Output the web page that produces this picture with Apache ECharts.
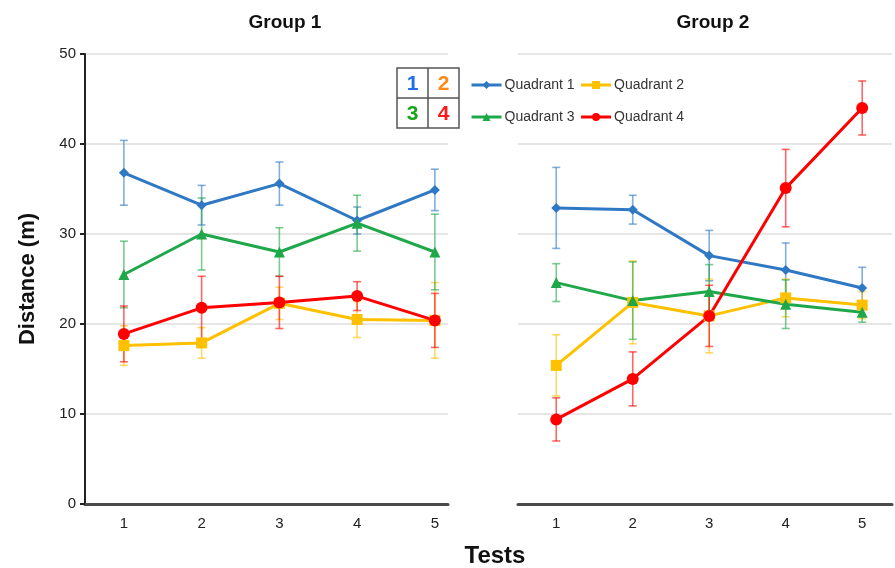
<!DOCTYPE html>
<html>
<head>
<meta charset="utf-8">
<script src="https://cdn.jsdelivr.net/npm/echarts@6/dist/echarts.min.js"></script>
<style>
  html, body { margin: 0; padding: 0; background: #fff; }
  #chart { width: 895px; height: 568px; }
</style>
</head>
<body>
<div id="chart"></div>
<script>
// Test numbers shared by both groups
const tests = [1, 2, 3, 4, 5];
const yTicks = [0, 10, 20, 30, 40, 50];
const seriesNames = ['Quadrant 1', 'Quadrant 2', 'Quadrant 3', 'Quadrant 4'];
const groupTitles = ['Group 1', 'Group 2'];

// Group 1 mean distances (m) and error half-widths
const g1q1 = [36.8, 33.2, 35.6, 31.5, 34.9];
const g1q1Err = [3.6, 2.2, 2.4, 1.5, 2.3];
const g1q2 = [17.6, 17.9, 22.3, 20.5, 20.4];
const g1q2Err = [2.2, 1.7, 1.8, 2.0, 4.2];
const g1q3 = [25.5, 30.0, 28.0, 31.2, 28.0];
const g1q3Err = [3.7, 4.0, 2.7, 3.1, 4.2];
const g1q4 = [18.9, 21.8, 22.4, 23.1, 20.4];
const g1q4Err = [3.1, 3.5, 2.9, 1.6, 3.0];

// Group 2 mean distances (m) and error half-widths
const g2q1 = [32.9, 32.7, 27.6, 26.0, 24.0];
const g2q1Err = [4.5, 1.6, 2.8, 3.0, 2.3];
const g2q2 = [15.4, 22.4, 20.9, 22.9, 22.1];
const g2q2Err = [3.4, 4.6, 4.1, 2.1, 1.5];
const g2q3 = [24.6, 22.6, 23.6, 22.2, 21.3];
const g2q3Err = [2.1, 4.3, 3.0, 2.7, 1.1];
const g2q4 = [9.4, 13.9, 20.9, 35.1, 44.0];
const g2q4Err = [2.4, 3.0, 3.4, 4.3, 3.0];

const colors = ['#2f78c4', '#ffc000', '#1fa84a', '#ff0000'];
const symbols = ['diamond', 'rect', 'triangle', 'circle'];
const symbolSizes = [10, 11, 11, 12];

const groups = [
  { means: [g1q1, g1q2, g1q3, g1q4], errs: [g1q1Err, g1q2Err, g1q3Err, g1q4Err] },
  { means: [g2q1, g2q2, g2q3, g2q4], errs: [g2q1Err, g2q2Err, g2q3Err, g2q4Err] }
];

const labelFont = '"Liberation Sans Narrow", "Liberation Sans", Arial, sans-serif';
const mainFont = '"Liberation Sans", Arial, sans-serif';

function errorBarRenderer(color) {
  return function (params, api) {
    const x = api.value(0);
    const lo = api.coord([x, api.value(1)]);
    const hi = api.coord([x, api.value(2)]);
    const half = 4;
    const style = { stroke: color, lineWidth: 1.6, opacity: 0.6 };
    return {
      type: 'group',
      children: [
        { type: 'line', shape: { x1: lo[0], y1: lo[1], x2: hi[0], y2: hi[1] }, style },
        { type: 'line', shape: { x1: hi[0] - half, y1: hi[1], x2: hi[0] + half, y2: hi[1] }, style },
        { type: 'line', shape: { x1: lo[0] - half, y1: lo[1], x2: lo[0] + half, y2: lo[1] }, style }
      ]
    };
  };
}

const series = [];
groups.forEach((g, gi) => {
  // line series first so the legend picks up their line + marker icons
  g.means.forEach((vals, si) => {
    series.push({
      type: 'line',
      name: seriesNames[si],
      xAxisIndex: gi,
      yAxisIndex: gi,
      z: 3,
      symbol: symbols[si],
      symbolSize: symbolSizes[si],
      color: colors[si],
      lineStyle: { width: 3, color: colors[si] },
      itemStyle: { color: colors[si] },
      data: tests.map((t, i) => [t, vals[i]])
    });
  });
  g.means.forEach((vals, si) => {
    series.push({
      type: 'custom',
      id: 'err-' + gi + '-' + si,
      xAxisIndex: gi,
      yAxisIndex: gi,
      z: 1,
      silent: true,
      renderItem: errorBarRenderer(colors[si]),
      data: tests.map((t, i) => [t, vals[i] - g.errs[si][i], vals[i] + g.errs[si][i]])
    });
  });
});

function xAxisFor(gi, max) {
  return {
    type: 'value',
    gridIndex: gi,
    min: 0.5,
    max: max,
    interval: 0.5,
    axisLine: { show: true, lineStyle: { color: '#4a4a4a', width: 3 } },
    axisTick: { show: false },
    splitLine: { show: false },
    axisLabel: {
      margin: 12,
      color: '#222',
      fontSize: 15,
      fontFamily: labelFont,
      formatter: v => (Number.isInteger(v) && tests.includes(v)) ? String(v) : ''
    }
  };
}

function yAxisFor(gi) {
  const first = gi === 0;
  return {
    type: 'value',
    gridIndex: gi,
    min: yTicks[0],
    max: yTicks[yTicks.length - 1],
    interval: 10,
    name: first ? 'Distance (m)' : '',
    nameLocation: 'middle',
    nameGap: 46,
    nameTextStyle: { fontSize: 22, fontWeight: 'bold', color: '#111', fontFamily: mainFont },
    axisLine: { show: first, lineStyle: { color: '#222', width: 2 } },
    axisTick: { show: first, length: 5, lineStyle: { color: '#222', width: 2 } },
    axisLabel: {
      show: first,
      margin: 9,
      color: '#222',
      fontSize: 15,
      fontFamily: labelFont
    },
    splitLine: { show: true, lineStyle: { color: '#dedede', width: 1.5 } }
  };
}

// 2x2 quadrant key drawn next to the legend
const boxL = 397, boxT = 68, boxW = 62, boxH = 60;
const digitColors = ['#1e6ff0', '#ff8a1a', '#1aa31a', '#ff1a1a'];
const quadrantKey = [
  { type: 'rect', shape: { x: boxL, y: boxT, width: boxW, height: boxH },
    style: { fill: '#fff', stroke: '#555', lineWidth: 1.5 } },
  { type: 'line', shape: { x1: boxL + boxW / 2, y1: boxT, x2: boxL + boxW / 2, y2: boxT + boxH },
    style: { stroke: '#555', lineWidth: 1.5 } },
  { type: 'line', shape: { x1: boxL, y1: boxT + boxH / 2, x2: boxL + boxW, y2: boxT + boxH / 2 },
    style: { stroke: '#555', lineWidth: 1.5 } }
];
['1', '2', '3', '4'].forEach((d, i) => {
  const cx = boxL + boxW / 4 + (i % 2) * boxW / 2;
  const cy = boxT + boxH / 4 + Math.floor(i / 2) * boxH / 2;
  quadrantKey.push({
    type: 'text',
    x: cx, y: cy + 1,
    style: {
      text: d, fill: digitColors[i], fontSize: 21, fontWeight: 'bold',
      fontFamily: mainFont, align: 'center', verticalAlign: 'middle'
    }
  });
});

const legendText = { fontSize: 14, color: '#333', fontFamily: mainFont, padding: [0, 0, 0, -2] };
const legendBase = { itemWidth: 30, itemHeight: 10, itemGap: 5, textStyle: legendText,
                     lineStyle: { width: 3 } };

const option = {
  animation: false,
  backgroundColor: '#fff',
  title: [
    { text: groupTitles[0], left: 280, top: 8, textAlign: 'center',
      textStyle: { fontSize: 19, fontWeight: 'bold', color: '#111', fontFamily: mainFont } },
    { text: groupTitles[1], left: 708, top: 8, textAlign: 'center',
      textStyle: { fontSize: 19, fontWeight: 'bold', color: '#111', fontFamily: mainFont } }
  ],
  legend: [
    Object.assign({ data: [seriesNames[0], seriesNames[1]], left: 465, top: 73 }, legendBase),
    Object.assign({ data: [seriesNames[2], seriesNames[3]], left: 465, top: 105 }, legendBase)
  ],
  grid: [
    { left: 85, top: 54, width: 363, height: 450 },
    { left: 518, top: 54, width: 377, height: 450 }
  ],
  xAxis: [xAxisFor(0, 0.5 + 363 / 77.75), xAxisFor(1, 0.5 + 377 / 77.1)],
  yAxis: [yAxisFor(0), yAxisFor(1)],
  graphic: [
    { type: 'group', children: quadrantKey },
    { type: 'text', x: 495, y: 556,
      style: { text: 'Tests', fontSize: 24, fontWeight: 'bold', fill: '#111', fontFamily: mainFont,
               align: 'center', verticalAlign: 'middle' } }
  ],
  series: series
};

const chart = echarts.init(document.getElementById('chart'), null, { renderer: 'canvas' });
chart.setOption(option);
</script>
</body>
</html>
